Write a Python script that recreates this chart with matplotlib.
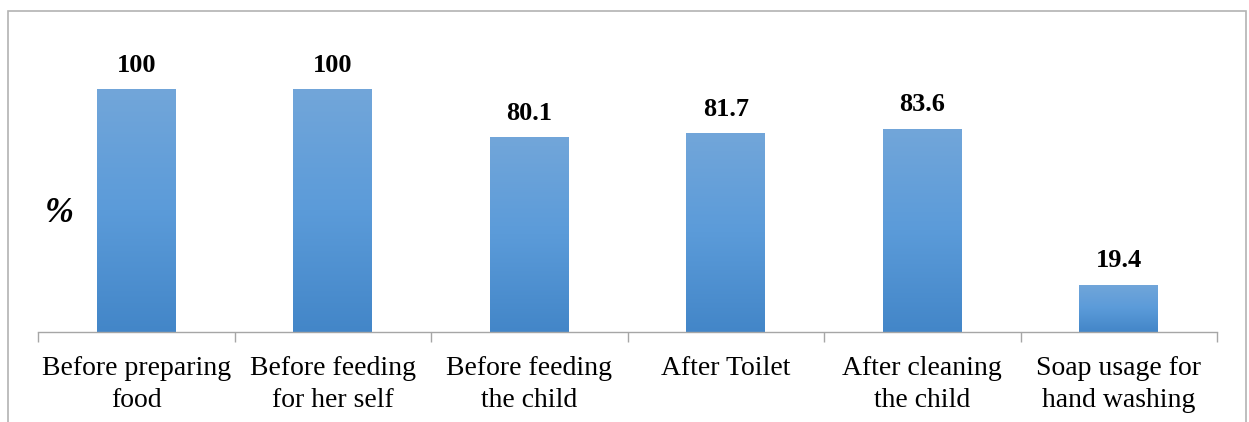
import matplotlib
matplotlib.use('Agg')
import matplotlib.pyplot as plt
import numpy as np
from matplotlib.colors import LinearSegmentedColormap
from matplotlib.patches import Rectangle

plt.rcParams['font.family'] = ['Liberation Serif', 'DejaVu Serif']

categories = ['Before preparing\nfood', 'Before feeding\nfor her self', 'Before feeding\nthe child',
              'After Toilet', 'After cleaning\nthe child', 'Soap usage for\nhand washing']
values = [100, 100, 80.1, 81.7, 83.6, 19.4]
value_labels = ['100', '100', '80.1', '81.7', '83.6', '19.4']

W, H = 1249, 422
fig = plt.figure(figsize=(W / 100, H / 100), dpi=100)

# outer frame of the chart area (bottom edge is cut off)
frame = Rectangle((8 / W, -0.05), (1246 - 8) / W, (H - 11) / H + 0.05, transform=fig.transFigure,
                  fill=False, edgecolor='#b3b3b3', linewidth=1.2)
fig.patches.append(frame)

ax = fig.add_axes([38 / W, 90 / H, (1217 - 38) / W, 291.6 / H])
x = np.arange(len(categories))
bars = ax.bar(x, values, width=0.40, color='none', edgecolor='none', zorder=2)

cmap = LinearSegmentedColormap.from_list('bluegrad', ['#4386c8', '#5b9bd9', '#72a6da'])
grad = np.linspace(0, 1, 256).reshape(-1, 1)
for b in bars:
    x0, y0 = b.get_x(), b.get_y()
    w, h = b.get_width(), b.get_height()
    im = ax.imshow(grad, cmap=cmap, aspect='auto', origin='lower',
                   extent=[x0, x0 + w, y0, y0 + h], zorder=2)
    im.set_clip_path(b)

for xi, v, lab in zip(x, values, value_labels):
    ax.annotate(lab, (xi, v), xytext=(0, 9), textcoords='offset points',
                ha='center', va='bottom', fontsize=19, fontweight='bold')

ax.set_xlim(-0.5, len(categories) - 0.5)
ax.set_ylim(0, 120)
for s in ['top', 'right', 'left']:
    ax.spines[s].set_visible(False)
ax.spines['bottom'].set_color('#a6a6a6')
ax.spines['bottom'].set_linewidth(1.0)
ax.set_yticks([])

# category labels, ticks sit between categories
ax.set_xticks(x)
ax.set_xticklabels(categories, fontsize=20, linespacing=1.38)
ax.tick_params(axis='x', which='major', length=0, pad=17)
ax.set_xticks(np.arange(len(categories) + 1) - 0.5, minor=True)
ax.tick_params(axis='x', which='minor', length=7, color='#a6a6a6', width=1.0)

fig.text(45 / W, 1 - 213 / H, '%', fontsize=25, fontweight='bold', fontstyle='italic',
         ha='left', va='center')

fig.savefig('out.png', dpi=100)
